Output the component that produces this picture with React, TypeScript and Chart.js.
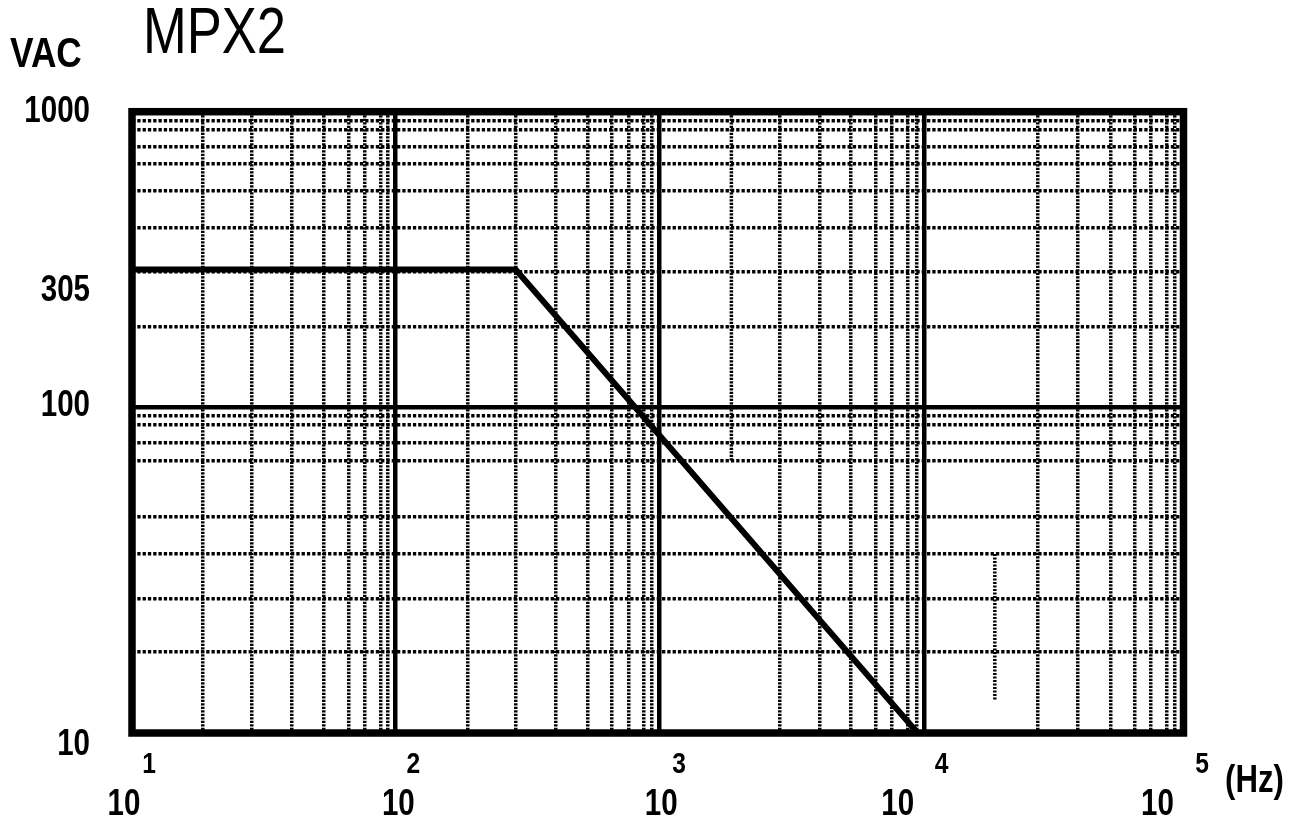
import React, { useEffect, useRef } from "react";
import { Chart, registerables, LogarithmicScale } from "chart.js";

// ---------------- data ----------------
const frequencyHz = [10, 300, 9150];
const voltageVac = [305, 305, 10];

const xDecades = [10, 100, 1000, 10000, 100000];
const yDecades = [10, 100, 1000];
const gridMantissas = [1, 2, 3, 4, 5, 6, 7, 8, 9];

// grid lines of the paper that are only partly printed: [frequency, from VAC, to VAC]
const partialXGridFreq = [2000, 20000];
const partialXGridFrom = [60, 14];
const partialXGridTo = [1000, 40];

const xTickExponents = ["1", "2", "3", "4", "5"];
const xTickBase = "10";
const yTickValues = [1000, 305, 100, 10];
const yTickLabels = ["1000", "305", "100", "10"];

const titleText = "MPX2";
const yUnitText = "VAC";
const xUnitText = "(Hz)";

// ---------------- graph-paper calibration (non-ideal log paper) ----------------
const PAPER: Record<string, { decadeWeights: number[]; mantissaFractions: number[][] }> = {
  x: {
    decadeWeights: [262.8, 263.3, 265, 258.3],
    mantissaFractions: [
      [0, 0.27, 0.454, 0.607, 0.727, 0.822, 0.882, 0.943, 0.971, 1],
      [0, 0.275, 0.456, 0.608, 0.731, 0.822, 0.883, 0.942, 0.973, 1],
      [0, 0.272, 0.453, 0.604, 0.723, 0.815, 0.877, 0.937, 0.969, 1],
      [0, 0.271, 0.438, 0.592, 0.718, 0.812, 0.873, 0.935, 0.967, 1],
    ],
  },
  y: {
    decadeWeights: [325.5, 295.6],
    mantissaFractions: [
      [0, 0.25, 0.412, 0.55, 0.663, 0.836, 0.89, 0.946, 0.975, 1],
      [0, 0.273, 0.459, 0.609, 0.733, 0.823, 0.882, 0.94, 0.97, 1],
    ],
  },
};

class PaperLogScale extends LogarithmicScale {
  static id = "paperlog";
  static defaults = LogarithmicScale.defaults;

  paperDecimal(value: number) {
    const cal = PAPER[(this as any).id];
    const start = Math.log10((this as any).min);
    const lv = Math.log10(value);
    const n = cal.decadeWeights.length;
    let d = Math.floor(lv - start + 1e-9);
    if (d < 0) d = 0;
    if (d >= n) d = n - 1;
    const base = Math.pow(10, start + d);
    const m = value / base;
    const fr = cal.mantissaFractions[d];
    let i = Math.floor(m + 1e-9) - 1;
    if (i < 0) i = 0;
    if (i > 8) i = 8;
    const f = fr[i] + (fr[i + 1] - fr[i]) * (m - (i + 1));
    const total = cal.decadeWeights.reduce((a, b) => a + b, 0);
    let acc = 0;
    for (let k = 0; k < d; k++) acc += cal.decadeWeights[k];
    return (acc + cal.decadeWeights[d] * f) / total;
  }

  getPixelForValue(value: number) {
    if (value === null || value === undefined || isNaN(value)) return NaN;
    return (this as any).getPixelForDecimal(this.paperDecimal(value));
  }
}

Chart.register(...registerables, PaperLogScale);

const FONT = '"Liberation Sans", Arial, sans-serif';
const NARROW = 0.82;
const X_DASH = [2.2, 1.3];
const Y_DASH = [3.3, 2];
const MINOR_W = 3.5;
const MAJOR_W = 4.5;

function gridTicks(decades: number[], skip: number[] = []) {
  const out: { value: number }[] = [];
  decades.forEach((d, i) => {
    if (i === decades.length - 1) out.push({ value: d });
    else gridMantissas.forEach((m) => {
      const v = d * m;
      if (!skip.some((s) => Math.abs(s - v) < 1e-6)) out.push({ value: v });
    });
  });
  return out;
}

const isDecade = (v: number) => Math.abs(Math.log10(v) - Math.round(Math.log10(v))) < 1e-9;

function narrowText(ctx: CanvasRenderingContext2D, text: string, x: number, y: number, font: string, align: CanvasTextAlign, baseline: CanvasTextBaseline) {
  ctx.save();
  ctx.font = font;
  ctx.textAlign = align;
  ctx.textBaseline = baseline;
  ctx.translate(x, y);
  ctx.scale(NARROW, 1);
  ctx.fillText(text, 0, 0);
  ctx.restore();
}

const partialGridPlugin = {
  id: "partialGrid",
  beforeDatasetsDraw(chart: any) {
    const { ctx } = chart;
    const xs = chart.scales.x;
    const ys = chart.scales.y;
    ctx.save();
    ctx.strokeStyle = "#000";
    ctx.lineWidth = MINOR_W;
    ctx.setLineDash(X_DASH);
    partialXGridFreq.forEach((f, i) => {
      const px = xs.getPixelForValue(f);
      ctx.beginPath();
      ctx.moveTo(px, ys.getPixelForValue(partialXGridTo[i]));
      ctx.lineTo(px, ys.getPixelForValue(partialXGridFrom[i]));
      ctx.stroke();
    });
    ctx.restore();
  },
};

const framePlugin = {
  id: "frame",
  afterDatasetsDraw(chart: any) {
    const { ctx, chartArea } = chart;
    ctx.save();
    ctx.strokeStyle = "#000";
    ctx.lineWidth = 7.5;
    ctx.strokeRect(chartArea.left, chartArea.top, chartArea.right - chartArea.left, chartArea.bottom - chartArea.top);
    ctx.restore();
  },
};

const xBaseOffsets = [-8, 3, 2, -27, -26];
const xExpOffsets = [17, 18, 20, 17, 18.5];
const yLabelOffsets = [0, 22, -1, 12];

const labelPlugin = {
  id: "labels",
  afterDraw(chart: any) {
    const { ctx } = chart;
    const xs = chart.scales.x;
    const ys = chart.scales.y;
    ctx.save();
    ctx.fillStyle = "#000";

    narrowText(ctx, titleText, 143, 53, `normal 64px ${FONT}`, "left", "alphabetic");
    narrowText(ctx, yUnitText, 10, 67, `bold 43px ${FONT}`, "left", "alphabetic");
    narrowText(ctx, xUnitText, 1225, 792, `bold 38px ${FONT}`, "left", "alphabetic");

    yTickValues.forEach((v, i) => {
      narrowText(ctx, yTickLabels[i], 90, ys.getPixelForValue(v) + yLabelOffsets[i], `bold 36px ${FONT}`, "right", "middle");
    });

    xDecades.forEach((v, i) => {
      const px = xs.getPixelForValue(v);
      narrowText(ctx, xTickBase, px + xBaseOffsets[i], 815, `bold 36px ${FONT}`, "center", "alphabetic");
      narrowText(ctx, xTickExponents[i], px + xExpOffsets[i], 773, `bold 30px ${FONT}`, "center", "alphabetic");
    });
    ctx.restore();
  },
};

function axisOptions(decades: number[], ticks: { value: number }[], dash: number[]) {
  return {
    type: "paperlog",
    min: decades[0],
    max: decades[decades.length - 1],
    afterBuildTicks: (scale: any) => {
      scale.ticks = ticks.map((t) => ({ value: t.value }));
    },
    ticks: { display: false, autoSkip: false },
    border: {
      display: false,
      dash: (ctx: any) => (ctx.tick && isDecade(ctx.tick.value) ? [] : dash),
    },
    grid: {
      drawTicks: false,
      color: "#000",
      lineWidth: (ctx: any) => {
        if (!ctx.tick) return 0;
        const v = ctx.tick.value;
        if (v === decades[0] || v === decades[decades.length - 1]) return 0;
        return isDecade(v) ? MAJOR_W : MINOR_W;
      },
    },
  };
}

export default function App() {
  const ref = useRef<HTMLCanvasElement | null>(null);
  useEffect(() => {
    if (!ref.current) return;
    const chart = new Chart(ref.current, {
      type: "line",
      data: {
        datasets: [
          {
            data: frequencyHz.map((f, i) => ({ x: f, y: voltageVac[i] })),
            borderColor: "#000",
            borderWidth: 6,
            pointRadius: 0,
            tension: 0,
            fill: false,
          },
        ],
      },
      options: {
        animation: false,
        responsive: false,
        events: [],
        layout: { padding: { left: 132, right: 114.5, top: 111.7, bottom: 89 } },
        plugins: { legend: { display: false }, tooltip: { enabled: false }, title: { display: false } },
        scales: {
          x: axisOptions(xDecades, gridTicks(xDecades, partialXGridFreq), X_DASH) as any,
          y: axisOptions(yDecades, gridTicks(yDecades), Y_DASH) as any,
        },
      } as any,
      plugins: [partialGridPlugin, framePlugin, labelPlugin],
    });
    return () => chart.destroy();
  }, []);
  return (
    <div style={{ position: "fixed", left: 0, top: 0, width: 1298, height: 822, background: "#fff" }}>
      <canvas ref={ref} width={1298} height={822} style={{ display: "block" }} />
    </div>
  );
}
